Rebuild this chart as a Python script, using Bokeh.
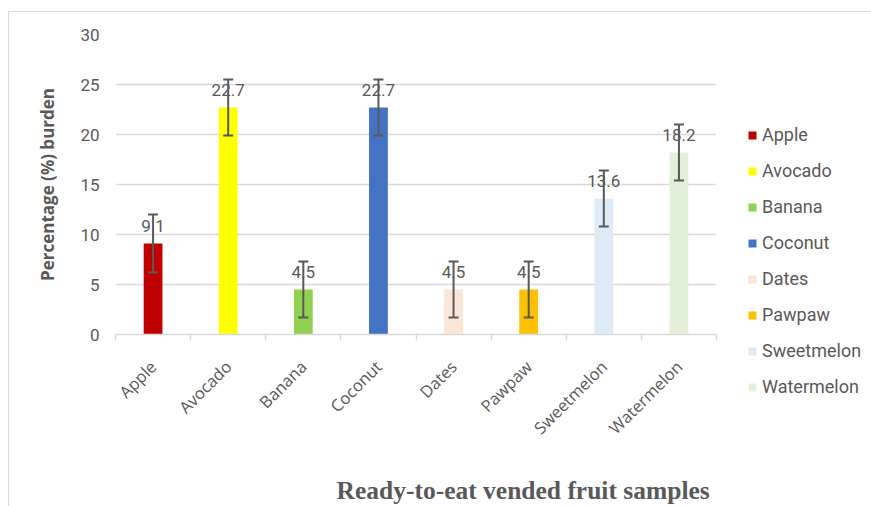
from bokeh.plotting import figure
from bokeh.models import (ColumnDataSource, Range1d, FixedTicker, Whisker, TeeHead,
                          LabelSet, Title)
from bokeh.core.properties import value
from bokeh.embed import file_html
from bokeh.resources import INLINE

categories = ["Apple", "Avocado", "Banana", "Coconut", "Dates", "Pawpaw", "Sweetmelon", "Watermelon"]
values = [9.1, 22.7, 4.5, 22.7, 4.5, 4.5, 13.6, 18.2]
errors = [2.9, 2.8, 2.8, 2.8, 2.8, 2.8, 2.8, 2.8]
colors = ["#C00000", "#FFFF00", "#92D050", "#4472C4", "#FBE5D6", "#FFC000", "#DEEBF7", "#E2F0D9"]
y_ticks = [0, 5, 10, 15, 20, 25, 30]

TXT = "#595959"
GRID = "#d9d9d9"
FONT = "Roboto"

xs = [i + 0.5 for i in range(len(categories))]
bounds = [i for i in range(len(categories) + 1)]
src = ColumnDataSource(dict(
    x=xs, top=values, fruit=categories, color=colors,
    upper=[v + e for v, e in zip(values, errors)],
    lower=[v - e for v, e in zip(values, errors)],
    label=[str(v) for v in values],
))

p = figure(frame_width=601, frame_height=300, output_backend="svg", toolbar_location=None,
           x_range=Range1d(0, len(categories)), y_range=Range1d(0, 30),
           min_border_left=106, min_border_right=0, min_border_top=22, min_border_bottom=0)
p.styles = {"margin-left": "8px", "margin-top": "11px",
            "border-left": "1px solid #d9d9d9", "border-top": "1px solid #d9d9d9"}
p.outline_line_color = None
p.background_fill_color = "white"

bars = p.vbar(x="x", top="top", width=0.25, source=src, fill_color="color", line_color=None,
              legend_field="fruit")

w = Whisker(base="x", upper="upper", lower="lower", source=src, line_color=TXT, line_width=2,
            upper_head=TeeHead(size=10, line_color=TXT, line_width=2),
            lower_head=TeeHead(size=10, line_color=TXT, line_width=2))
w.level = "overlay"

labels = LabelSet(x="x", y="top", text="label", source=src, y_offset=12,
                  text_align="center", text_baseline="alphabetic",
                  text_font=value(FONT), text_font_size="17px", text_color=TXT)
p.add_layout(labels)
p.add_layout(w)

# axes
p.xaxis.ticker = FixedTicker(ticks=xs, minor_ticks=bounds)
p.xaxis.major_label_overrides = {x: c for x, c in zip(xs, categories)}
p.xaxis.major_label_orientation = 0.785398
p.xaxis.major_label_text_font = "Open Sans"
p.xaxis.major_label_text_font_size = "16.5px"
p.xaxis.major_label_text_color = TXT
p.xaxis.major_label_standoff = 23
p.xaxis.major_tick_line_color = None
p.xaxis.minor_tick_line_color = GRID
p.xaxis.minor_tick_out = 6
p.xaxis.minor_tick_in = 0
p.xaxis.minor_tick_line_width = 1.5
p.xaxis.axis_line_color = GRID
p.xaxis.axis_line_width = 1.5

p.yaxis.ticker = FixedTicker(ticks=y_ticks)
p.yaxis.axis_line_color = None
p.yaxis.major_tick_line_color = None
p.yaxis.minor_tick_line_color = None
p.yaxis.major_label_text_font = FONT
p.yaxis.major_label_text_font_size = "17px"
p.yaxis.major_label_text_color = TXT
p.yaxis.major_label_standoff = 10
p.yaxis.axis_label = "Percentage (%) burden"
p.yaxis.axis_label_text_font = "Open Sans"
p.yaxis.axis_label_text_font_style = "bold"
p.yaxis.axis_label_text_font_size = "17px"
p.yaxis.axis_label_text_color = TXT
p.yaxis.axis_label_standoff = 18

p.xgrid.grid_line_color = None
p.ygrid.grid_line_color = GRID
p.ygrid.grid_line_width = 1.3

xtitle = Title(text="Ready-to-eat vended fruit samples", align="left", offset=221,
               text_font="Liberation Serif", text_font_style="bold", text_font_size="25.5px",
               text_color=TXT, standoff=49)
p.add_layout(xtitle, "below")

# legend to the right
legend = p.legend[0]
p.center.remove(legend)
legend.location = (31, -63)
legend.margin = 0
legend.padding = 0
legend.border_line_color = None
legend.background_fill_alpha = 0
legend.glyph_width = 10
legend.glyph_height = 10
legend.label_height = 20
legend.spacing = 15
legend.label_standoff = 5
legend.label_text_font = FONT
legend.label_text_font_size = "18px"
legend.label_text_color = TXT
p.add_layout(legend, "right")

open("out.html", "w").write(file_html(p, INLINE))
